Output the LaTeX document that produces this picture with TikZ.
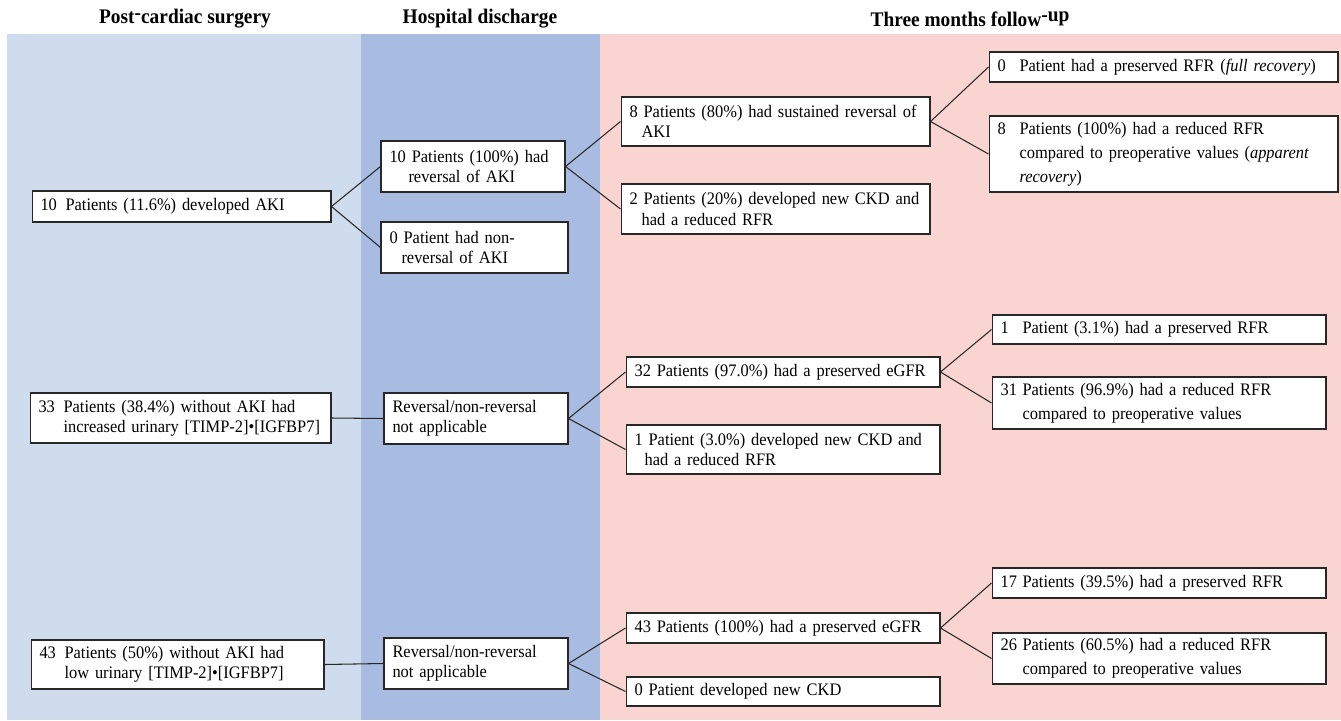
\documentclass[tikz,border=0pt]{standalone}
\usepackage{fontspec}
\setmainfont{Liberation Serif}[FakeStretch=0.935]
\usepackage{xcolor}
\usepackage{tikz}
\definecolor{celeste}{RGB}{207,220,238}
\definecolor{azulmedio}{RGB}{168,188,226}
\definecolor{rosa}{RGB}{250,212,208}
\definecolor{borde}{RGB}{40,40,40}
\newcommand{\nro}[2][0.5cm]{\makebox[#1][l]{#2}}

\begin{document}
\begin{tikzpicture}[x=0.02cm,y=-0.02cm,
celda/.style={draw=borde,fill=white,line width=0.6pt,align=left,inner xsep=0.17cm,inner ysep=1pt,font=\fontsize{10}{11.4}\selectfont},
celdaamplia/.style={celda,font=\fontsize{10}{13.6}\selectfont},
titulo/.style={font=\bfseries\fontsize{11.8}{13}\selectfont},
lin/.style={line width=0.6pt,draw=borde}
]
\useasboundingbox (0,0) rectangle (1341,720);
\fill[celeste] (7,34) rectangle (361,720);
\fill[azulmedio] (361,34) rectangle (600,720);
\fill[rosa] (600,34) rectangle (1341,720);

\node[titulo] (t1) at (185,19) {Post\raisebox{0.45ex}{-}cardiac surgery};
\node[titulo] (t2) at (480,19) {Hospital discharge};
\node[titulo] (t3) at (970,19) {Three months follow\raisebox{0.45ex}{-up}};

\node[celda,text width=5.64cm,minimum height=0.62cm] (aki) at (181.5,206.5) {\nro{10}Patients (11.6\%) developed AKI};
\node[celda,text width=3.34cm,minimum height=1.02cm] (rev) at (473,166.5) {10 Patients (100\%) had\\\hspace*{0.38cm}reversal of AKI};
\node[celda,text width=3.4cm,minimum height=1.02cm] (norev) at (474.5,247.5) {0 Patient had non-\\\hspace*{0.24cm}reversal of AKI};
\node[celda,text width=5.84cm,minimum height=0.98cm] (sost) at (775.5,121.5) {8 Patients (80\%) had sustained reversal of\\\hspace*{0.24cm}AKI};
\node[celda,text width=5.84cm,minimum height=1cm] (ckda) at (775.5,209) {2 Patients (20\%) developed new CKD and\\\hspace*{0.24cm}had a reduced RFR};
\node[celdaamplia,text width=6.64cm,minimum height=0.6cm] (plena) at (1163.5,67) {\nro[0.44cm]{0}Patient had a preserved RFR (\textit{full recovery})};
\node[celdaamplia,text width=6.64cm,minimum height=1.52cm] (aparente) at (1163.5,154) {\nro[0.44cm]{8}Patients (100\%) had a reduced RFR\\\hspace*{0.44cm}compared to preoperative values (\textit{apparent}\\\hspace*{0.44cm}\textit{recovery})};

\node[celda,text width=5.68cm,minimum height=1cm] (alto) at (180.5,418) {\nro{33}Patients (38.4\%) without AKI had\\\hspace*{0.5cm}increased urinary [TIMP-2]•[IGFBP7]};
\node[celda,text width=3.34cm,minimum height=1.02cm] (noapa) at (476,418.5) {Reversal/non-reversal\\not applicable};
\node[celda,text width=5.94cm,minimum height=0.6cm] (egfra) at (783,372) {32 Patients (97.0\%) had a preserved eGFR};
\node[celda,text width=5.94cm,minimum height=0.98cm] (ckdb) at (783,449.5) {1 Patient (3.0\%) developed new CKD and\\\hspace*{0.2cm}had a reduced RFR};
\node[celdaamplia,text width=6.34cm,minimum height=0.58cm] (presa) at (1159,329.5) {\nro[0.44cm]{1}Patient (3.1\%) had a preserved RFR};
\node[celdaamplia,text width=6.34cm,minimum height=1.04cm] (reda) at (1159,403) {\nro[0.44cm]{31}Patients (96.9\%) had a reduced RFR\\\hspace*{0.44cm}compared to preoperative values};

\node[celda,text width=5.52cm,minimum height=0.98cm] (bajo) at (177.5,664.5) {\nro{43}Patients (50\%) without AKI had\\\hspace*{0.5cm}low urinary [TIMP-2]•[IGFBP7]};
\node[celda,text width=3.34cm,minimum height=1.02cm] (noapb) at (476,663.5) {Reversal/non-reversal\\not applicable};
\node[celda,text width=5.94cm,minimum height=0.6cm] (egfrb) at (783,628) {43 Patients (100\%) had a preserved eGFR};
\node[celda,text width=5.94cm,minimum height=0.58cm] (ckdc) at (783,691.5) {0 Patient developed new CKD};
\node[celdaamplia,text width=6.34cm,minimum height=0.6cm] (presb) at (1159,583) {\nro[0.44cm]{17}Patients (39.5\%) had a preserved RFR};
\node[celdaamplia,text width=6.34cm,minimum height=1.02cm] (redb) at (1159,658.5) {\nro[0.44cm]{26}Patients (60.5\%) had a reduced RFR\\\hspace*{0.44cm}compared to preoperative values};

\draw[lin] (aki.east) -- (rev.west);
\draw[lin] (aki.east) -- (norev.west);
\draw[lin] (rev.east) -- (sost.west);
\draw[lin] (rev.east) -- (ckda.west);
\draw[lin] (sost.east) -- (plena.west);
\draw[lin] (sost.east) -- (aparente.west);

\draw[lin] (alto.east) -- (noapa.west);
\draw[lin] (noapa.east) -- (egfra.west);
\draw[lin] (noapa.east) -- (ckdb.west);
\draw[lin] (egfra.east) -- (presa.west);
\draw[lin] (egfra.east) -- (reda.west);

\draw[lin] (bajo.east) -- (noapb.west);
\draw[lin] (noapb.east) -- (egfrb.west);
\draw[lin] (noapb.east) -- (ckdc.west);
\draw[lin] (egfrb.east) -- (presb.west);
\draw[lin] (egfrb.east) -- (redb.west);
\end{tikzpicture}
\end{document}
